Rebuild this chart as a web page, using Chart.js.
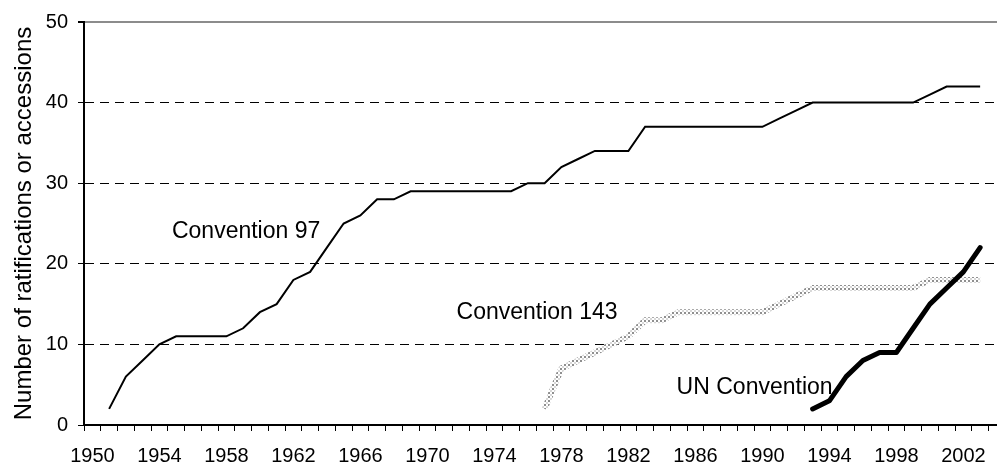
<!DOCTYPE html>
<html>
<head>
<meta charset="utf-8">
<script src="https://cdn.jsdelivr.net/npm/chart.js@4.4.1/dist/chart.umd.min.js"></script>
<style>
    html, body { margin: 0; padding: 0; background: #fff; overflow: hidden; }
    #wrap { width: 1010px; height: 466px; }
</style>
</head>
<body>
<div id="wrap"><canvas id="ratChart" width="1010" height="466"></canvas></div>
<script>
// categories: one per year, the axis runs past the picture's right edge
var years = ['1950', '1951', '1952', '1953', '1954', '1955', '1956', '1957', '1958', '1959',
    '1960', '1961', '1962', '1963', '1964', '1965', '1966', '1967', '1968', '1969',
    '1970', '1971', '1972', '1973', '1974', '1975', '1976', '1977', '1978', '1979',
    '1980', '1981', '1982', '1983', '1984', '1985', '1986', '1987', '1988', '1989',
    '1990', '1991', '1992', '1993', '1994', '1995', '1996', '1997', '1998', '1999',
    '2000', '2001', '2002', '2003', '2004'];

var tickLabels = ['1950', '1954', '1958', '1962', '1966', '1970', '1974', '1978',
    '1982', '1986', '1990', '1994', '1998', '2002'];

var conv97 = [null, 2, 6, 8, 10, 11, 11, 11, 11, 12,
    14, 15, 18, 19, 22, 25, 26, 28, 28, 29,
    29, 29, 29, 29, 29, 29, 30, 30, 32, 33,
    34, 34, 34, 37, 37, 37, 37, 37, 37, 37,
    37, 38, 39, 40, 40, 40, 40, 40, 40, 40,
    41, 42, 42, 42, null];

var conv143 = [null, null, null, null, null, null, null, null, null, null,
    null, null, null, null, null, null, null, null, null, null,
    null, null, null, null, null, null, null, 2, 7, 8,
    9, 10, 11, 13, 13, 14, 14, 14, 14, 14,
    14, 15, 16, 17, 17, 17, 17, 17, 17, 17,
    18, 18, 18, 18, null];

var unConv = [null, null, null, null, null, null, null, null, null, null,
    null, null, null, null, null, null, null, null, null, null,
    null, null, null, null, null, null, null, null, null, null,
    null, null, null, null, null, null, null, null, null, null,
    null, null, null, 2, 3, 6, 8, 9, 9, 12,
    15, 17, 19, 22, null];

var seriesNames = ['Convention 97', 'Convention 143', 'UN Convention'];

(function () {
    'use strict';

    Chart.defaults.font.family = '"Liberation Sans", Arial, sans-serif';
    Chart.defaults.color = '#000';

    // dotted grey fill, like the Excel patterned line
    var pc = document.createElement('canvas');
    pc.width = 4;
    pc.height = 4;
    var p = pc.getContext('2d');
    p.fillStyle = '#fff';
    p.fillRect(0, 0, 4, 4);
    p.fillStyle = '#8f8f8f';
    p.fillRect(0, 0, 2, 2);
    p.fillStyle = '#d8d8d8';
    p.fillRect(2, 2, 2, 2);
    var canvas = document.getElementById('ratChart');
    var ctx = canvas.getContext('2d');
    var hatch = ctx.createPattern(pc, 'repeat');

    // text labels next to the lines, placed in (category index, value)
    var notes = [
        { text: seriesNames[0], i: 4.75, v: 23.25 },
        { text: seriesNames[1], i: 21.74, v: 13.17 },
        { text: seriesNames[2], i: 34.88, v: 3.9 }
    ];

    var notePlugin = {
        id: 'notes',
        beforeDatasetsDraw: function (chart) {
            var c = chart.ctx;
            var xs = chart.scales.x;
            var ys = chart.scales.y;
            c.save();
            c.font = '23px "Liberation Sans", Arial, sans-serif';
            c.fillStyle = '#000';
            c.textAlign = 'left';
            c.textBaseline = 'alphabetic';
            notes.forEach(function (n) {
                c.fillText(n.text, xs.getPixelForValue(n.i), ys.getPixelForValue(n.v));
            });
            c.restore();
        }
    };

    new Chart(ctx, {
        type: 'line',
        data: {
            labels: years,
            datasets: [{
                label: seriesNames[2],
                data: unConv,
                borderColor: '#000',
                borderWidth: 5,
                borderCapStyle: 'round',
                borderJoinStyle: 'round'
            }, {
                label: seriesNames[0],
                data: conv97,
                borderColor: '#000',
                borderWidth: 2
            }, {
                label: seriesNames[1],
                data: conv143,
                borderColor: hatch,
                borderWidth: 6
            }]
        },
        options: {
            responsive: false,
            animation: false,
            devicePixelRatio: 1,
            layout: { padding: { top: 20, left: 9.6, right: 4.75, bottom: 0 } },
            elements: {
                point: { radius: 0 },
                line: { tension: 0, fill: false }
            },
            plugins: {
                legend: { display: false },
                tooltip: { enabled: false }
            },
            scales: {
                x: {
                    offset: true,
                    grid: {
                        offset: true,
                        drawOnChartArea: false,
                        tickLength: 6,
                        tickColor: '#000',
                        tickWidth: 1
                    },
                    border: { color: '#000', width: 2 },
                    ticks: {
                        autoSkip: false,
                        maxRotation: 0,
                        minRotation: 0,
                        padding: 13,
                        font: { size: 20 },
                        callback: function (value, index) {
                            var y = years[index];
                            return tickLabels.indexOf(y) >= 0 ? y : '';
                        }
                    },
                    afterFit: function (s) { s.height = 41; }
                },
                y: {
                    min: 0,
                    max: 50,
                    grid: {
                        color: function (c) {
                            return c.tick && c.tick.value === 50 ? '#8c8c8c' : '#000';
                        },
                        lineWidth: function (c) {
                            return c.tick && c.tick.value === 50 ? 2 : 1;
                        },
                        tickLength: 6,
                        tickColor: '#000'
                    },
                    border: {
                        color: '#000',
                        width: 2,
                        dash: function (c) {
                            return c.tick && c.tick.value > 0 && c.tick.value < 50 ? [9, 6] : [];
                        }
                    },
                    ticks: {
                        stepSize: 10,
                        padding: 10,
                        font: { size: 20 }
                    },
                    title: {
                        display: true,
                        text: 'Number of ratifications or accessions',
                        font: { size: 24 },
                        padding: 0
                    },
                    afterFit: function (s) { s.width = 74.4; }
                }
            }
        },
        plugins: [notePlugin]
    });
})();
</script>
</body>
</html>
